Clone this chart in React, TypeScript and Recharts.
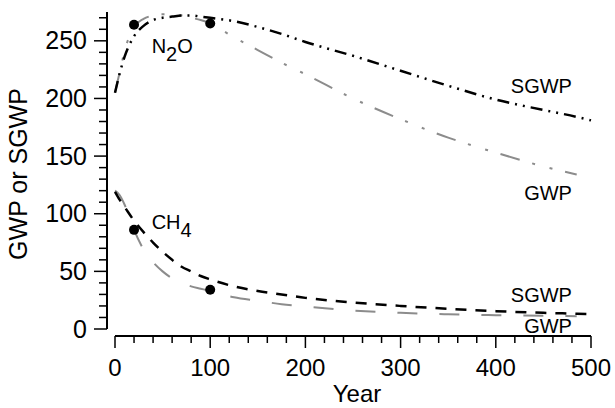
import {
  ComposedChart,
  Line,
  ReferenceDot,
  ReferenceLine,
  Scatter,
  XAxis,
  YAxis,
} from "recharts";

const FONT = '"Liberation Sans", Arial, Helvetica, sans-serif';
const GRAY = "#8c8c8c";

// time horizon (years)
const years = [0, 5, 10, 20, 30, 40, 50, 60, 70, 80, 90, 100, 125, 150, 175, 200, 250, 300, 350, 400, 450, 485, 500];

// N2O
const n2oGwp = [205, 223, 241, 262, 269, 272, 273, 273, 272, 270, 268, 265, 253, 242, 231, 221, 200, 182, 166, 153, 141, 134, null];
const n2oSgwp = [205, 222, 236, 254, 263, 268, 270, 271, 272, 272, 271, 270, 267, 262, 256, 249, 237, 224, 211, 199, 190, 184, 181];

// CH4
const ch4Gwp = [120, 116, 108, 86, 69, 58, 50, 44, 40, 37, 35, 33, 27.5, 24.5, 21.5, 19.5, 16, 14, 12.8, 12, 11.5, 11, null];
const ch4Sgwp = [119, 112, 106, 94, 84, 75, 67, 60, 54, 50, 46, 43, 37, 33, 30, 27, 23, 20, 17.5, 15.5, 14, 13.3, 13];

// 20- and 100-year values
const dotYears = [20, 100];
const n2oDots = [264, 265];
const ch4Dots = [86, 34];

const xMajorTicks = [0, 100, 200, 300, 400, 500];
const yMajorTicks = [0, 50, 100, 150, 200, 250];
const xTicks = Array.from({ length: 26 }, (_, i) => i * 20);
const yTicks = Array.from({ length: 28 }, (_, i) => i * 10);

const gasLabels = [
  { main: "N", sub: "2", tail: "O", year: 38.5, value: 239 },
  { main: "CH", sub: "4", tail: "", year: 38.5, value: 86.5 },
];
const curveLabels = [
  { text: "SGWP", year: 480, value: 204.5 },
  { text: "GWP", year: 480, value: 112 },
  { text: "SGWP", year: 480, value: 23 },
  { text: "GWP", year: 480, value: -3.7 },
];

const rows = years.map((year, i) => ({
  year,
  n2oGwp: n2oGwp[i],
  n2oSgwp: n2oSgwp[i],
  ch4Gwp: ch4Gwp[i],
  ch4Sgwp: ch4Sgwp[i],
}));
const n2oDotRows = dotYears.map((year, i) => ({ year, value: n2oDots[i] }));
const ch4DotRows = dotYears.map((year, i) => ({ year, value: ch4Dots[i] }));

function XTick({ x, y, payload }: any) {
  const major = xMajorTicks.includes(payload.value);
  return (
    <g>
      <line x1={x} x2={x} y1={y} y2={y + (major ? 12 : 7)} stroke="#000" strokeWidth={1.5} />
      {major && (
        <text x={x} y={y + 40} textAnchor="middle" fontSize={24} fontFamily={FONT} fill="#000">
          {payload.value}
        </text>
      )}
    </g>
  );
}

function YTick({ x, y, payload }: any) {
  const major = yMajorTicks.includes(payload.value);
  return (
    <g>
      <line x1={x - (major ? 13 : 8)} x2={x} y1={y} y2={y} stroke="#000" strokeWidth={1.5} />
      {major && (
        <text x={x - 20} y={y + 8.5} textAnchor="end" fontSize={25} fontFamily={FONT} fill="#000">
          {payload.value}
        </text>
      )}
    </g>
  );
}

const dotShape = (p: any) => <circle cx={p.cx} cy={p.cy} r={5} fill="#000" />;

export default function App() {
  return (
    <div style={{ width: 615, height: 408, background: "#fff" }}>
      <style>{"body{margin:0}"}</style>
      <ComposedChart
        width={615}
        height={408}
        data={rows}
        margin={{ top: 12, right: 24, bottom: 42, left: 47 }}
      >
        <XAxis
          dataKey="year"
          type="number"
          domain={[0, 500]}
          ticks={xTicks}
          interval={0}
          padding={{ left: 8, right: 0 }}
          height={30}
          axisLine={false}
          tickLine={false}
          tickSize={0}
          tickMargin={0}
          tick={(props: any) => <XTick {...props} />}
          label={{
            value: "Year",
            content: ({ viewBox }: any) => (
              <text
                x={viewBox.x + viewBox.width / 2 + 8}
                y={viewBox.y + 66}
                textAnchor="middle"
                fontSize={24}
                fontFamily={FONT}
                fill="#000"
              >
                Year
              </text>
            ),
          }}
        />
        <YAxis
          type="number"
          domain={[0, 275]}
          ticks={yTicks}
          interval={0}
          padding={{ top: 0, bottom: 7 }}
          width={60}
          axisLine={false}
          tickLine={false}
          tickSize={0}
          tickMargin={0}
          tick={(props: any) => <YTick {...props} />}
          label={{
            value: "GWP or SGWP",
            content: ({ viewBox }: any) => (
              <text
                transform={`translate(27,${viewBox.y + viewBox.height / 2}) rotate(-90)`}
                textAnchor="middle"
                fontSize={25}
                fontFamily={FONT}
                fill="#000"
              >
                GWP or SGWP
              </text>
            ),
          }}
        />
        {/* detached axis lines */}
        <ReferenceLine
          segment={[{ x: -8.4, y: 0 }, { x: -8.4, y: 275 }]}
          stroke="#000"
          strokeWidth={2}
          ifOverflow="visible"
        />
        <ReferenceLine
          segment={[{ x: 0, y: -6.07 }, { x: 500, y: -6.07 }]}
          stroke="#000"
          strokeWidth={2}
          ifOverflow="visible"
        />
        <Line
          dataKey="n2oGwp"
          type="monotone"
          stroke={GRAY}
          strokeWidth={2}
          strokeDasharray="20 13 3 15 3 13"
          dot={false}
          activeDot={false}
          isAnimationActive={false}
        />
        <Line
          dataKey="n2oSgwp"
          type="monotone"
          stroke="#000"
          strokeWidth={2.5}
          strokeDasharray="12 6 2 6 2 6"
          dot={false}
          activeDot={false}
          isAnimationActive={false}
        />
        <Line
          dataKey="ch4Gwp"
          type="monotone"
          stroke={GRAY}
          strokeWidth={2}
          strokeDasharray="20 22"
          dot={false}
          activeDot={false}
          isAnimationActive={false}
        />
        <Line
          dataKey="ch4Sgwp"
          type="monotone"
          stroke="#000"
          strokeWidth={2.5}
          strokeDasharray="11 9"
          dot={false}
          activeDot={false}
          isAnimationActive={false}
        />
        <Scatter data={n2oDotRows} dataKey="value" shape={dotShape} isAnimationActive={false} />
        <Scatter data={ch4DotRows} dataKey="value" shape={dotShape} isAnimationActive={false} />
        {gasLabels.map((l) => (
          <ReferenceDot
            key={l.main}
            x={l.year}
            y={l.value}
            r={0}
            ifOverflow="visible"
            shape={(p: any) => (
              <text x={p.cx} y={p.cy} fontSize={20} fontFamily={FONT} fill="#000">
                {l.main}
                <tspan dy={8}>{l.sub}</tspan>
                <tspan dy={-8}>{l.tail}</tspan>
              </text>
            )}
          />
        ))}
        {curveLabels.map((l, i) => (
          <ReferenceDot
            key={i}
            x={l.year}
            y={l.value}
            r={0}
            ifOverflow="visible"
            shape={(p: any) => (
              <text x={p.cx} y={p.cy} textAnchor="end" fontSize={20} fontFamily={FONT} fill="#000">
                {l.text}
              </text>
            )}
          />
        ))}
      </ComposedChart>
    </div>
  );
}
